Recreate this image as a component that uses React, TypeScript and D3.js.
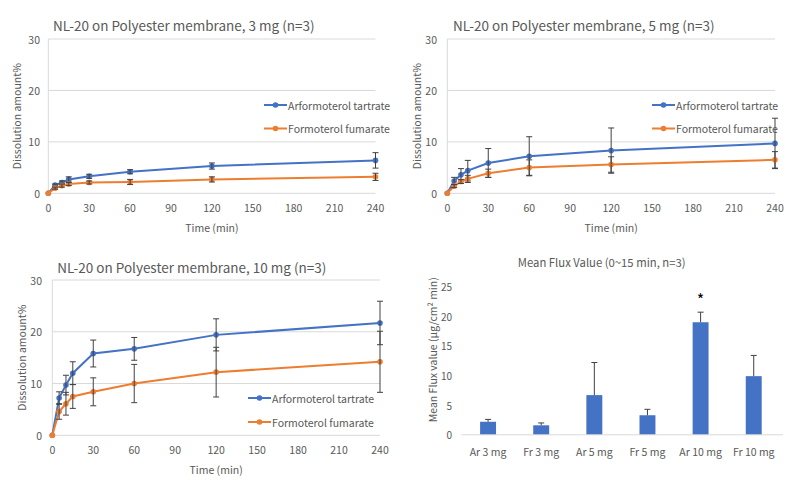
import React from "react";
import * as d3 from "d3";

const times = [0, 5, 10, 15, 30, 60, 120, 240];
const xTicks = [0, 30, 60, 90, 120, 150, 180, 210, 240];
const yTicks = [0, 10, 20, 30];

const ar3 = [0, 1.6, 2.1, 2.7, 3.3, 4.2, 5.3, 6.4];
const ar3Err = [0, 0.2, 0.3, 0.5, 0.4, 0.4, 0.6, 1.5];
const fr3 = [0, 1.0, 1.5, 1.8, 2.1, 2.2, 2.7, 3.2];
const fr3Err = [0, 0.2, 0.3, 0.3, 0.3, 0.5, 0.5, 0.7];

const ar5 = [0, 2.4, 3.6, 4.4, 5.9, 7.2, 8.3, 9.7];
const ar5Err = [0, 0.7, 1.2, 2.0, 2.8, 3.8, 4.4, 4.9];
const fr5 = [0, 1.4, 2.3, 2.8, 3.9, 5.0, 5.6, 6.5];
const fr5Err = [0, 0.3, 0.4, 0.7, 0.8, 1.5, 1.5, 1.6];

const ar10 = [0, 7.2, 9.7, 12.0, 15.8, 16.7, 19.4, 21.7];
const ar10Err = [0, 1.2, 1.9, 2.2, 2.6, 2.2, 3.1, 4.2];
const fr10 = [0, 4.6, 6.1, 7.5, 8.4, 10.0, 12.2, 14.2];
const fr10Err = [0, 1.5, 2.2, 2.3, 2.7, 3.7, 4.8, 5.9];

const seriesNames = ["Arformoterol tartrate", "Formoterol fumarate"];

const barCats = ["Ar 3 mg", "Fr 3 mg", "Ar 5 mg", "Fr 5 mg", "Ar 10 mg", "Fr 10 mg"];
const barVals = [2.2, 1.6, 6.7, 3.3, 19.0, 9.9];
const barErr = [0.4, 0.4, 5.5, 1.0, 1.7, 3.5];
const barTicks = [0, 5, 10, 15, 20, 25];
const barStarIndex = 4;

const FONT = "'Noto Sans CJK KR', 'Noto Sans', sans-serif";
const TEXT = "#595959";
const GRID = "#D9D9D9";
const BLUE = "#4472C4";
const ORANGE = "#ED7D31";
const ERR = "#404040";

type LineProps = {
  title: string;
  ar: number[];
  arErr: number[];
  fr: number[];
  frErr: number[];
  left: number;
  right: number;
  top: number;
  bottom: number;
  titleX: number;
  titleY: number;
  yTickRight: number;
  xTickY: number;
  xLabelY: number;
  yLabelX: number;
  legX: number;
  legY1: number;
  legY2: number;
};

function LinePanel(p: LineProps) {
  const x = d3.scaleLinear().domain([0, 240]).range([p.left, p.right]);
  const y = d3.scaleLinear().domain([0, 30]).range([p.bottom, p.top]);
  const line = d3
    .line<number>()
    .x((_, i) => x(times[i]))
    .y((d) => y(d));
  const series = [
    { vals: p.ar, errs: p.arErr, color: BLUE },
    { vals: p.fr, errs: p.frErr, color: ORANGE },
  ];
  return (
    <g fontFamily={FONT}>
      <text x={p.titleX} y={p.titleY} fontSize={13.5} fill={TEXT}>
        {p.title}
      </text>
      {yTicks.map((t) => (
        <g key={t}>
          {t > 0 && (
            <line x1={p.left} x2={p.right} y1={y(t)} y2={y(t)} stroke={GRID} strokeWidth={1} />
          )}
          <text x={p.yTickRight} y={y(t)} fontSize={10.5} fill={TEXT} textAnchor="end" dominantBaseline="central">
            {t}
          </text>
        </g>
      ))}
      <line x1={p.left} x2={p.left} y1={p.top} y2={p.bottom} stroke={GRID} />
      <line x1={p.left} x2={p.right} y1={p.bottom} y2={p.bottom} stroke={GRID} />
      {xTicks.map((t) => (
        <text key={t} x={x(t)} y={p.xTickY} fontSize={10.5} fill={TEXT} textAnchor="middle" dominantBaseline="central">
          {t}
        </text>
      ))}
      <text x={(p.left + p.right) / 2} y={p.xLabelY} fontSize={10.5} fill={TEXT} textAnchor="middle" dominantBaseline="central">
        Time (min)
      </text>
      <text
        transform={`translate(${p.yLabelX},${(p.top + p.bottom) / 2}) rotate(-90)`}
        fontSize={10.5}
        fill={TEXT}
        textAnchor="middle"
        dominantBaseline="central"
      >
        Dissolution amount%
      </text>
      {series.map((s, si) => (
        <g key={si}>
          <path d={line(s.vals) || ""} fill="none" stroke={s.color} strokeWidth={2} />
          {s.vals.map((v, i) => (
            <circle key={i} cx={x(times[i])} cy={y(v)} r={2.8} fill={s.color} />
          ))}
          {s.vals.map((v, i) =>
            s.errs[i] > 0 ? (
              <g key={"e" + i} stroke={ERR} strokeWidth={1}>
                <line x1={x(times[i])} x2={x(times[i])} y1={y(v - s.errs[i])} y2={y(v + s.errs[i])} />
                <line x1={x(times[i]) - 3} x2={x(times[i]) + 3} y1={y(v - s.errs[i])} y2={y(v - s.errs[i])} />
                <line x1={x(times[i]) - 3} x2={x(times[i]) + 3} y1={y(v + s.errs[i])} y2={y(v + s.errs[i])} />
              </g>
            ) : null
          )}
        </g>
      ))}
      {[BLUE, ORANGE].map((c, i) => {
        const ly = i === 0 ? p.legY1 : p.legY2;
        return (
          <g key={c}>
            <line x1={p.legX} x2={p.legX + 23} y1={ly} y2={ly} stroke={c} strokeWidth={2} />
            <circle cx={p.legX + 11.5} cy={ly} r={2.8} fill={c} />
            <text x={p.legX + 24} y={ly} fontSize={10.5} fill={TEXT} dominantBaseline="central">
              {seriesNames[i]}
            </text>
          </g>
        );
      })}
    </g>
  );
}

function BarPanel() {
  const left = 461.5;
  const right = 783;
  const top = 286.7;
  const bottom = 434.8;
  const x = d3.scaleBand<string>().domain(barCats).range([left, 780.3]).paddingInner(0.7).paddingOuter(0.35);
  const y = d3.scaleLinear().domain([0, 25]).range([bottom, top]);
  const bw = x.bandwidth();
  return (
    <g fontFamily={FONT}>
      <text x={601.7} y={266.7} fontSize={11.3} fill={TEXT} textAnchor="middle">
        Mean Flux Value (0~15 min, n=3)
      </text>
      {barTicks.map((t) => (
        <text key={t} x={452} y={y(t)} fontSize={10} fill={TEXT} textAnchor="end" dominantBaseline="central">
          {t}
        </text>
      ))}
      <text
        transform={`translate(432.5,${(top + bottom) / 2 - 11}) rotate(-90)`}
        fontSize={10.5}
        fill={TEXT}
        textAnchor="middle"
        dominantBaseline="central"
      >
        Mean Flux value (μg/cm² min)
      </text>
      {barCats.map((c, i) => {
        const bx = x(c) as number;
        const cx = bx + bw / 2;
        const top2 = y(barVals[i] + barErr[i]);
        return (
          <g key={c}>
            <rect x={bx} y={y(barVals[i])} width={bw} height={bottom - y(barVals[i])} fill={BLUE} />
            <line x1={cx} x2={cx} y1={y(barVals[i])} y2={top2} stroke={ERR} strokeWidth={1} />
            <line x1={cx - 3} x2={cx + 3} y1={top2} y2={top2} stroke={ERR} strokeWidth={1} />
            <text x={cx} y={451} fontSize={10.5} fill={TEXT} textAnchor="middle" dominantBaseline="central">
              {c}
            </text>
            {i === barStarIndex && (
              <text x={cx} y={306} fontSize={16} fill="#000" textAnchor="middle">
                *
              </text>
            )}
          </g>
        );
      })}
      <line x1={left} x2={right} y1={bottom} y2={bottom} stroke={GRID} />
    </g>
  );
}

export default function App() {
  return (
    <svg
      width={790}
      height={483}
      style={{ position: "absolute", left: 0, top: 0, background: "#fff" }}
    >
      <rect width={790} height={483} fill="#fff" />
      <LinePanel
        title="NL-20 on Polyester membrane, 3 mg (n=3)"
        ar={ar3}
        arErr={ar3Err}
        fr={fr3}
        frErr={fr3Err}
        left={48.3}
        right={375.5}
        top={39}
        bottom={193.3}
        titleX={53}
        titleY={31}
        yTickRight={40}
        xTickY={207.3}
        xLabelY={227.3}
        yLabelX={16}
        legX={264}
        legY1={105}
        legY2={128.5}
      />
      <LinePanel
        title="NL-20 on Polyester membrane, 5 mg (n=3)"
        ar={ar5}
        arErr={ar5Err}
        fr={fr5}
        frErr={fr5Err}
        left={447.3}
        right={775}
        top={39}
        bottom={193.3}
        titleX={453}
        titleY={31}
        yTickRight={437}
        xTickY={207.3}
        xLabelY={227.3}
        yLabelX={416.7}
        legX={652}
        legY1={105}
        legY2={128.5}
      />
      <LinePanel
        title="NL-20 on Polyester membrane, 10 mg (n=3)"
        ar={ar10}
        arErr={ar10Err}
        fr={fr10}
        frErr={fr10Err}
        left={52.3}
        right={380}
        top={280}
        bottom={435.3}
        titleX={57.3}
        titleY={272.7}
        yTickRight={42}
        xTickY={449.3}
        xLabelY={469}
        yLabelX={21.7}
        legX={248}
        legY1={398}
        legY2={422}
      />
      <BarPanel />
    </svg>
  );
}
